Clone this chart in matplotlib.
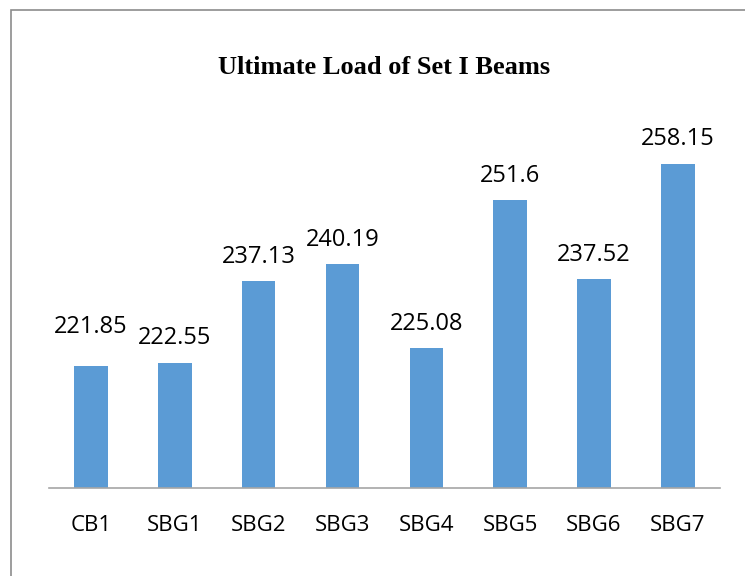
import matplotlib.pyplot as plt
from matplotlib.patches import Rectangle

categories = ['CB1', 'SBG1', 'SBG2', 'SBG3', 'SBG4', 'SBG5', 'SBG6', 'SBG7']
loads = [221.85, 222.55, 237.13, 240.19, 225.08, 251.6, 237.52, 258.15]

bar_color = '#5B9BD5'

fig = plt.figure(figsize=(7.45, 5.76), dpi=100)
ax = fig.add_axes([0.066, 0.152, 0.9, 0.69])

x = range(len(categories))
bars = ax.bar(x, loads, width=0.4, color=bar_color, bottom=0)
ax.set_ylim(200, 271.2)
ax.set_xlim(-0.5, len(categories) - 0.5)

# value labels above bars (CB1 label sits a bit higher, as in the original)
for i, v in enumerate(loads):
    extra = 11 if i == 0 else 0
    ax.annotate(f'{v:g}', (i, v), xytext=(0, 9 + extra), textcoords='offset points',
                ha='center', va='bottom', fontsize=17, family='Open Sans')

ax.set_xticks(list(x))
ax.set_xticklabels(categories, fontsize=16, family='Open Sans')
ax.tick_params(axis='x', length=0, pad=19)
ax.set_yticks([])
for s in ['top', 'right', 'left']:
    ax.spines[s].set_visible(False)
ax.spines['bottom'].set_color('#A6A6A6')
ax.spines['bottom'].set_linewidth(1.2)

fig.text(0.516, 0.882, 'Ultimate Load of Set I Beams', ha='center', va='center',
         fontsize=19, fontweight='bold', family='Liberation Serif')

# outer chart border (runs off the right and bottom of the picture)
fig.patches.append(Rectangle((11 / 745, -0.1), 1.2, 1 - 10 / 576 + 0.1,
                             transform=fig.transFigure, fill=False,
                             edgecolor='#8C8C8C', linewidth=1.2))

fig.savefig('out.png', dpi=100)
